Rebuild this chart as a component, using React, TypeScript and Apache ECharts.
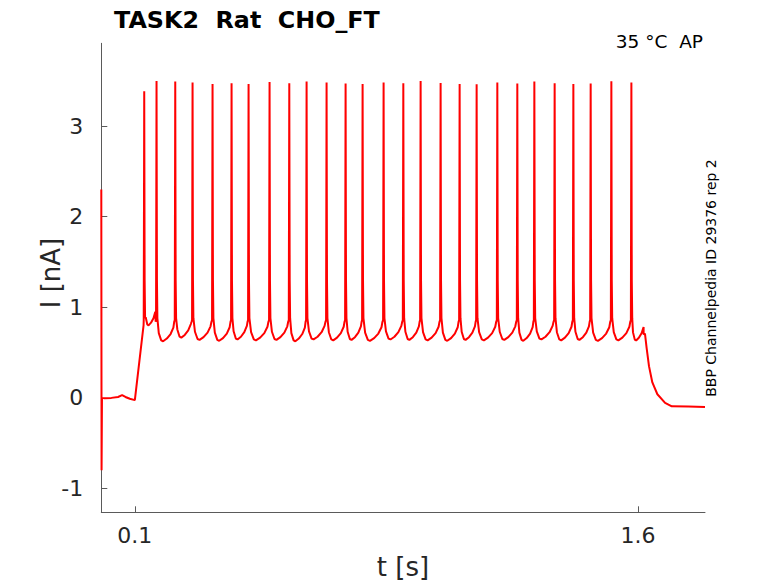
import React, { useEffect, useRef } from "react";
import * as echarts from "echarts";

// ---- values ----
const xTickValues = [0.1, 1.6];
const yTickValues = [-1, 0, 1, 2, 3];

// stimulus-onset artefact and pre-step baseline [t (s), I (nA)]
const onsetTrace: [number, number][] = [
  [0, 2.3], [0.0008, -0.8], [0.002, 0.0], [0.01, -0.005], [0.03, 0.0],
  [0.05, 0.01], [0.062, 0.03], [0.072, 0.01], [0.085, -0.01], [0.1, -0.025],
  [0.1005, -0.02], [0.126, 0.8],
];

// spike times and peak currents
const spikeTimes = [
  0.128, 0.1647, 0.2205, 0.2721, 0.3317, 0.3884, 0.4391, 0.5017, 0.5605,
  0.6121, 0.6717, 0.7284, 0.7791, 0.8417, 0.9005, 0.9521, 1.0117, 1.0684,
  1.1191, 1.1808, 1.2404, 1.2912, 1.3517, 1.4075, 1.4591, 1.5208, 1.5805,
];
const spikePeaks = [
  3.385, 3.498, 3.492, 3.481, 3.465, 3.473, 3.465, 3.487, 3.473, 3.492,
  3.481, 3.47, 3.465, 3.481, 3.473, 3.498, 3.476, 3.465, 3.462, 3.481,
  3.47, 3.492, 3.473, 3.465, 3.47, 3.495, 3.481,
];
// minimum current between a spike and the next event
const troughs = [
  0.8, 0.625, 0.665, 0.64, 0.63, 0.645, 0.635, 0.64, 0.625, 0.645,
  0.635, 0.64, 0.63, 0.645, 0.64, 0.635, 0.63, 0.64, 0.635, 0.64,
  0.63, 0.645, 0.635, 0.64, 0.63, 0.635, 0.633,
];
// inter-spike waveform: [fraction of interval, offset above trough]
const recoveryShape: [number, number][] = [
  [0.12, 0.09], [0.25, 0.01], [0.35, 0], [0.55, 0.03], [0.75, 0.08], [0.9, 0.15],
];
const spikeFoot = 0.86;

// end of step and decay to holding current
const stepEndTime = 1.621;
const offsetTrace: [number, number][] = [
  [1.617, 0.7], [1.621, 0.71], [1.626, 0.55], [1.633, 0.35], [1.643, 0.17],
  [1.658, 0.04], [1.681, -0.055], [1.701, -0.093], [1.75, -0.095], [1.8, -0.1],
];

function buildTrace(): [number, number][] {
  const pts: [number, number][] = [...onsetTrace];
  for (let i = 0; i < spikeTimes.length; i++) {
    const t = spikeTimes[i];
    const next = i + 1 < spikeTimes.length ? spikeTimes[i + 1] : stepEndTime;
    const dt = next - t;
    pts.push([t - 0.0015, spikeFoot]);
    pts.push([t, spikePeaks[i]]);
    pts.push([t + 0.0012, 1.3]);
    pts.push([t + 0.0025, 0.88]);
    for (const [f, off] of recoveryShape) {
      pts.push([t + f * dt, troughs[i] + off]);
    }
    if (i + 1 < spikeTimes.length) pts.push([next - 0.0015 - dt * 0.03, spikeFoot - 0.02]);
  }
  return pts.concat(offsetTrace);
}

const FONT = "DejaVu Sans";

export default function App() {
  const ref = useRef<HTMLDivElement>(null);
  useEffect(() => {
    document.body.style.margin = "0";
    if (!ref.current) return;
    const chart = echarts.init(ref.current, undefined, { renderer: "svg" });
    chart.setOption({
      animation: false,
      backgroundColor: "#ffffff",
      title: {
        text: "TASK2  Rat  CHO_FT",
        left: 109,
        top: 3,
        textStyle: { fontFamily: FONT, fontWeight: "bold", fontSize: 23.8, color: "#000" },
      },
      grid: { left: 101.3, right: 73, top: 43.3, bottom: 70.7, containLabel: false },
      xAxis: {
        type: "value",
        min: 0,
        max: 1.8,
        splitLine: { show: false },
        axisLine: { show: true, onZero: false, lineStyle: { color: "#5a5a5a", width: 1 } },
        axisTick: { show: true, inside: true, length: 6, customValues: xTickValues, lineStyle: { color: "#5a5a5a" } },
        axisLabel: {
          customValues: xTickValues,
          margin: 12,
          fontFamily: FONT,
          fontSize: 22,
          color: "#262626",
          formatter: (v: number) => String(v),
        },
      },
      yAxis: {
        type: "value",
        min: -1.263,
        max: 3.914,
        splitLine: { show: false },
        axisLine: { show: true, onZero: false, lineStyle: { color: "#5a5a5a", width: 1 } },
        axisTick: { show: true, inside: true, length: 6, customValues: yTickValues, lineStyle: { color: "#5a5a5a" } },
        axisLabel: {
          customValues: yTickValues,
          margin: 18,
          fontFamily: FONT,
          fontSize: 22,
          color: "#262626",
          formatter: (v: number) => String(v),
        },
      },
      graphic: [
        {
          type: "text",
          x: 51,
          y: 273,
          rotation: Math.PI / 2,
          style: { text: "I [nA]", fontFamily: FONT, fontSize: 26, fill: "#262626", align: "center", verticalAlign: "middle" },
        },
        {
          type: "text",
          x: 403,
          y: 567,
          style: { text: "t [s]", fontFamily: FONT, fontSize: 26, fill: "#262626", align: "center", verticalAlign: "middle" },
        },
        {
          type: "text",
          x: 703,
          y: 41,
          style: { text: "35 °C  AP", fontFamily: FONT, fontSize: 18.5, fill: "#000", align: "right", verticalAlign: "middle" },
        },
        {
          type: "text",
          x: 711,
          y: 278,
          rotation: Math.PI / 2,
          style: { text: "BBP Channelpedia ID 29376 rep 2", fontFamily: FONT, fontSize: 14, fill: "#000", align: "center", verticalAlign: "middle" },
        },
      ],
      series: [
        {
          type: "line",
          data: buildTrace(),
          showSymbol: false,
          symbol: "none",
          smooth: false,
          clip: true,
          lineStyle: { color: "#ff0000", width: 2 },
        },
      ],
    });
    return () => chart.dispose();
  }, []);
  return <div ref={ref} style={{ width: 778, height: 583 }} />;
}
